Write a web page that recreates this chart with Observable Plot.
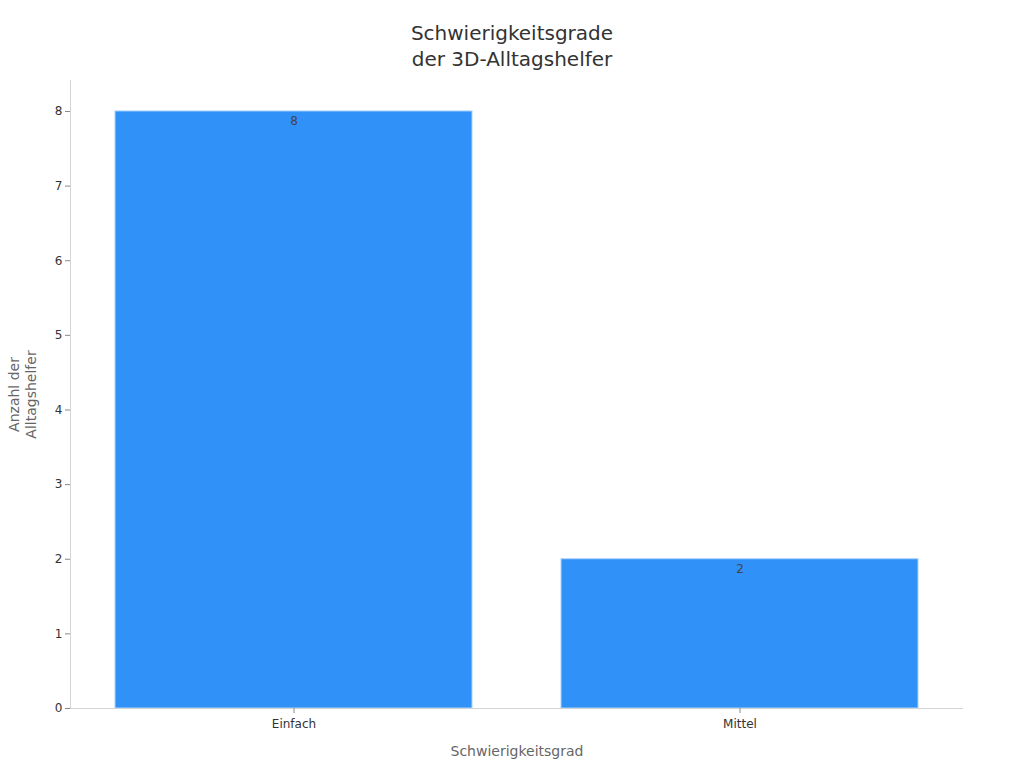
<!DOCTYPE html>
<html>
<head>
<meta charset="utf-8">
<script src="https://cdn.jsdelivr.net/npm/d3@7"></script>
<script src="https://cdn.jsdelivr.net/npm/@observablehq/plot@0.6"></script>
<style>
  html, body { margin: 0; padding: 0; background: #fff; }
  body { width: 1024px; height: 768px; overflow: hidden; font-family: "DejaVu Sans", sans-serif; }
  #title { height: 80px; box-sizing: border-box; padding-top: 20px; text-align: center; font-size: 20px; line-height: 26px; color: #333; }
  svg { display: block; }
</style>
</head>
<body>
<div id="title">Schwierigkeitsgrade<br>der 3D-Alltagshelfer</div>
<div id="chart"></div>
<script>
const categories = ["Einfach", "Mittel"];
const counts = [8, 2];
const yTicks = [0, 1, 2, 3, 4, 5, 6, 7, 8];
const xLabel = "Schwierigkeitsgrad";
const yLabel = "Anzahl der\nAlltagshelfer";

const data = categories.map((c, i) => ({category: c, value: counts[i]}));

const chart = Plot.plot({
  width: 1024,
  height: 688,
  marginTop: 0,
  marginBottom: 60,
  marginLeft: 70,
  marginRight: 61,
  style: {fontFamily: "DejaVu Sans, sans-serif", fontSize: "12px", color: "#333", background: "#fff"},
  x: {domain: categories, paddingInner: 0.2, paddingOuter: 0.1, label: null},
  y: {domain: [0, 8.415], label: null},
  marks: [
    Plot.barY(data, {x: "category", y: "value", fill: "#3092f9", stroke: "#a8d2ff", strokeWidth: 1}),
    Plot.text(data, {x: "category", y: "value", text: d => String(d.value), dy: 10, fill: "#444", fontSize: 12}),
    Plot.frame({anchor: "left", stroke: "#d4d4d4"}),
    Plot.ruleY([0], {stroke: "#d4d4d4"}),
    Plot.axisY({ticks: yTicks, tickSize: 5, tickPadding: 3, stroke: "#888", fill: "#333", fontSize: 12, label: null}),
    Plot.axisX({tickSize: 5, tickPadding: 6, stroke: "#888", fill: "#333", fontSize: 12, label: null}),
    Plot.text([xLabel], {frameAnchor: "bottom", dy: 47, fill: "#666", fontSize: 14}),
    Plot.text([yLabel], {frameAnchor: "left", textAnchor: "middle", dx: -48, rotate: -90, fill: "#666", fontSize: 14, lineHeight: 1.2})
  ]
});
document.getElementById("chart").appendChild(chart);
</script>
</body>
</html>
